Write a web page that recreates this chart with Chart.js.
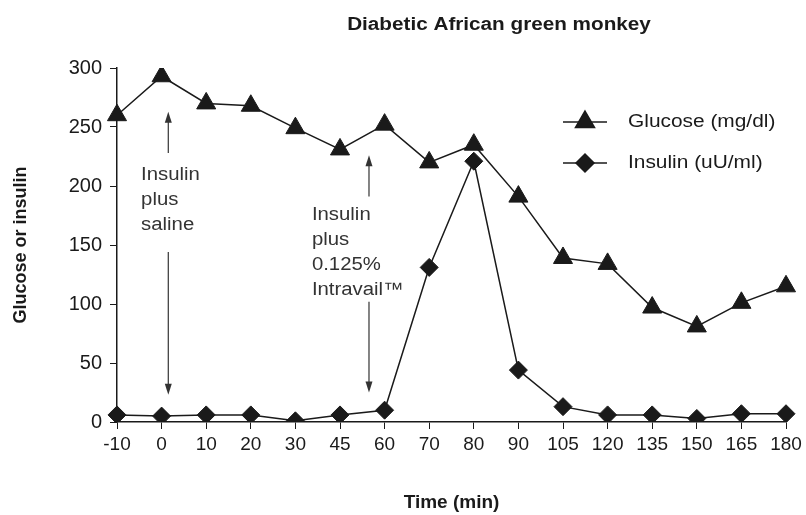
<!DOCTYPE html>
<html>
<head>
<meta charset="utf-8">
<script src="https://cdn.jsdelivr.net/npm/chart.js@4/dist/chart.umd.min.js"></script>
<style>
  html, body { margin: 0; background: #fff; }
</style>
</head>
<body>
<canvas id="grafico" width="806" height="515"></canvas>
<script>
// --- Dados ---
const tempos = ['-10', '0', '10', '20', '30', '45', '60', '70', '80', '90', '105', '120', '135', '150', '165', '180'];
const glicose = [260, 293, 270, 268, 249, 231, 252, 220, 235, 191, 139, 134, 97, 81, 101, 115];
const insulina = [6, 5, 6, 6, 1, 6, 10, 131, 221, 44, 13, 6, 6, 3, 7, 7];
const yTicks = [0, 50, 100, 150, 200, 250, 300];

const titulo = 'Diabetic African green monkey';
const notaSalina = ['Insulin', 'plus', 'saline'];
const notaIntravail = ['Insulin', 'plus', '0.125%', 'Intravail™'];

const preto = '#1a1a1a';
const fonte = "'Liberation Sans', Arial, sans-serif";
Chart.defaults.font.family = fonte;
Chart.defaults.color = preto;

// texto um pouco "esticado" na horizontal, como no original
function texto(ctx, t, x, y, font, esticar) {
  ctx.save();
  ctx.font = font;
  ctx.translate(x, y);
  ctx.scale(esticar, 1);
  ctx.fillText(t, 0, 0);
  ctx.restore();
}

// seta com ponta preenchida (posicao em unidades de dados)
function seta(ctx, xs, ys, xIdx, vDe, vAte) {
  const x = xs.getPixelForValue(xIdx);
  const y1 = ys.getPixelForValue(vDe);
  const y2 = ys.getPixelForValue(vAte);
  const dir = y2 > y1 ? 1 : -1;
  ctx.save();
  ctx.strokeStyle = '#333';
  ctx.fillStyle = '#333';
  ctx.lineWidth = 1.2;
  ctx.beginPath();
  ctx.moveTo(x, y1);
  ctx.lineTo(x, y2 - dir * 8);
  ctx.stroke();
  ctx.beginPath();
  ctx.moveTo(x, y2);
  ctx.lineTo(x - 3.5, y2 - dir * 11);
  ctx.lineTo(x + 3.5, y2 - dir * 11);
  ctx.closePath();
  ctx.fill();
  ctx.restore();
}

function nota(ctx, xs, ys, xIdx, v, linhas) {
  const x = xs.getPixelForValue(xIdx);
  const y = ys.getPixelForValue(v);
  ctx.save();
  ctx.fillStyle = '#333';
  ctx.textAlign = 'left';
  ctx.textBaseline = 'middle';
  linhas.forEach((t, i) => texto(ctx, t, x, y + i * 25, '18px ' + fonte, 1.13));
  ctx.restore();
}

const extras = {
  id: 'extras',
  afterDatasetsDraw(chart) {
    const ctx = chart.ctx;
    const xs = chart.scales.x, ys = chart.scales.y;

    // titulo
    ctx.save();
    ctx.fillStyle = preto;
    ctx.textAlign = 'center';
    ctx.textBaseline = 'alphabetic';
    texto(ctx, titulo, 499, 30, 'bold 18px ' + fonte, 1.15);
    ctx.restore();

    // anotacoes
    seta(ctx, xs, ys, 1.15, 228, 263);
    seta(ctx, xs, ys, 1.15, 144, 23);
    nota(ctx, xs, ys, 0.54, 209, notaSalina);
    seta(ctx, xs, ys, 5.65, 191, 226);
    seta(ctx, xs, ys, 5.65, 102, 25);
    nota(ctx, xs, ys, 4.37, 175, notaIntravail);

    // legenda
    chart.data.datasets.forEach((ds, i) => {
      const y = 122 + i * 41;
      ctx.save();
      ctx.strokeStyle = preto;
      ctx.lineWidth = 1.5;
      ctx.beginPath();
      ctx.moveTo(563, y);
      ctx.lineTo(607, y);
      ctx.stroke();
      ctx.fillStyle = preto;
      Chart.helpers.drawPoint(ctx, { pointStyle: ds.pointStyle, radius: ds.pointRadius, borderWidth: 1 }, 585, y);
      ctx.textAlign = 'left';
      ctx.textBaseline = 'middle';
      texto(ctx, ds.label, 628, y, '18px ' + fonte, 1.16);
      ctx.restore();
    });
  }
};

new Chart(document.getElementById('grafico'), {
  type: 'line',
  data: {
    labels: tempos,
    datasets: [{
      label: 'Glucose (mg/dl)',
      data: glicose,
      borderColor: preto,
      backgroundColor: preto,
      borderWidth: 1.5,
      pointStyle: 'triangle',
      pointRadius: 11,
      pointBorderWidth: 1,
      tension: 0
    }, {
      label: 'Insulin (uU/ml)',
      data: insulina,
      borderColor: preto,
      backgroundColor: preto,
      borderWidth: 1.5,
      pointStyle: 'rectRot',
      pointRadius: 9,
      pointBorderWidth: 1,
      tension: 0
    }]
  },
  options: {
    responsive: false,
    animation: false,
    layout: { padding: { top: 68, right: 20, left: 0, bottom: 0 } },
    plugins: { legend: { display: false }, tooltip: { enabled: false } },
    scales: {
      x: {
        offset: false,
        grid: { drawOnChartArea: false, drawTicks: true, tickLength: 7, color: preto },
        border: { color: preto, width: 1.5 },
        ticks: { font: { size: 19 }, padding: 4, maxRotation: 0, autoSkip: false, color: preto },
        title: { display: true, text: 'Time (min)', font: { size: 19, weight: 'bold' }, padding: { top: 0, bottom: 1 } },
        afterFit(s) { s.height = 93; }
      },
      y: {
        min: 0,
        max: 300,
        afterBuildTicks(s) { s.ticks = yTicks.map(v => ({ value: v })); },
        grid: { drawOnChartArea: false, drawTicks: true, tickLength: 7, color: preto },
        border: { color: preto, width: 1.5 },
        ticks: { font: { size: 20 }, padding: 8, color: preto },
        title: { display: true, text: 'Glucose or insulin', font: { size: 18, weight: 'bold' }, padding: { top: 10, bottom: 0 } },
        afterFit(s) { s.width = 117; }
      }
    }
  },
  plugins: [extras]
});
</script>
</body>
</html>
